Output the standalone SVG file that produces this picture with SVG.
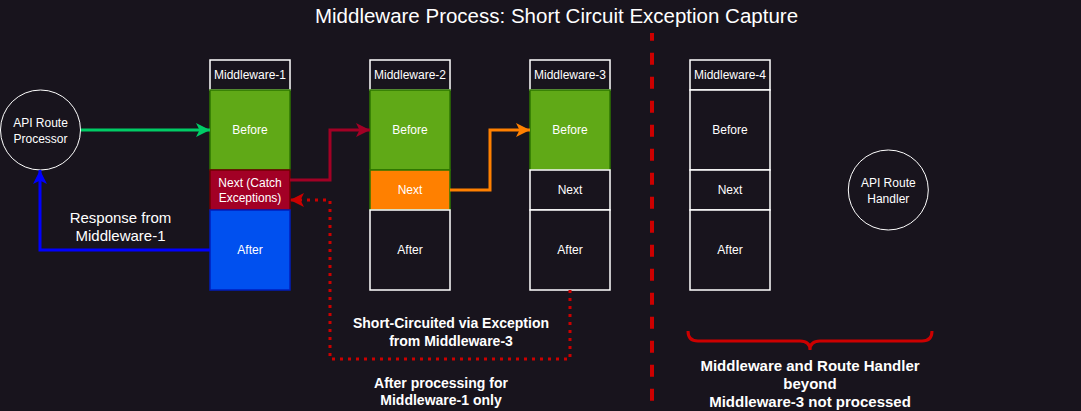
<svg xmlns="http://www.w3.org/2000/svg" width="1081" height="411" viewBox="0 0 1081 411">
<style>
text{font-family:"Liberation Sans",Arial,sans-serif;fill:#ffffff;text-anchor:middle}
.lbl{font-size:12px}
.hdr{font-size:12px}
.bold14{font-size:14px;font-weight:bold}
.bold15{font-size:15px;font-weight:bold}
.dark{fill:#18141d;stroke:#ffffff;stroke-width:1.5}
.green{fill:#60a917;stroke:#2d7600;stroke-width:1.5}
.red{fill:#a20025;stroke:#6f0000;stroke-width:1.5}
.blue{fill:#0050ef;stroke:#001dbc;stroke-width:1.5}
.orange{fill:#ff8000;stroke:#2d7600;stroke-width:1.5}
.circ{fill:#18141d;stroke:#ffffff;stroke-width:1}
.conn{fill:none;stroke-width:3}
</style>
<defs>
<marker id="aGreen" markerUnits="userSpaceOnUse" markerWidth="14" markerHeight="14" viewBox="0 0 14 14" refX="14" refY="7" orient="auto"><path d="M0,0 L14,7 L0,14 L3.5,7 Z" fill="#00cc66"/></marker>
<marker id="aBlue" markerUnits="userSpaceOnUse" markerWidth="14" markerHeight="14" viewBox="0 0 14 14" refX="14" refY="7" orient="auto"><path d="M0,0 L14,7 L0,14 L3.5,7 Z" fill="#0000ff"/></marker>
<marker id="aDRed" markerUnits="userSpaceOnUse" markerWidth="14" markerHeight="14" viewBox="0 0 14 14" refX="14" refY="7" orient="auto"><path d="M0,0 L14,7 L0,14 L3.5,7 Z" fill="#a20025"/></marker>
<marker id="aOrange" markerUnits="userSpaceOnUse" markerWidth="14" markerHeight="14" viewBox="0 0 14 14" refX="14" refY="7" orient="auto"><path d="M0,0 L14,7 L0,14 L3.5,7 Z" fill="#ff8000"/></marker>
<marker id="aRed" markerUnits="userSpaceOnUse" markerWidth="14" markerHeight="14" viewBox="0 0 14 14" refX="14" refY="7" orient="auto"><path d="M0,0 L14,7 L0,14 L3.5,7 Z" fill="#cc0000"/></marker>
</defs>
<rect x="0" y="0" width="1081" height="411" fill="#18141d"/>

<text x="556.5" y="22.5" style="font-size:20.5px">Middleware Process: Short Circuit Exception Capture</text>

<g id="divider">
<line x1="652" y1="33" x2="652" y2="411" stroke="#cc0000" stroke-width="4" stroke-dasharray="12 12" stroke-dashoffset="4.3"/>
</g>

<g id="api-route-processor">
<circle class="circ" cx="40.5" cy="130" r="40"/>
<text class="lbl" x="40.5" y="127">API Route</text>
<text class="lbl" x="40.5" y="142.5">Processor</text>
</g>

<g id="middleware-1">
<rect class="dark" x="210" y="60" width="80" height="30"/>
<text class="hdr" x="250" y="79.3">Middleware-1</text>
<rect class="green" x="210" y="90" width="80" height="80"/>
<text class="lbl" x="250" y="134.3">Before</text>
<rect class="red" x="210" y="170" width="80" height="40"/>
<text class="lbl" x="250" y="187">Next (Catch</text>
<text class="lbl" x="250" y="201.6">Exceptions)</text>
<rect class="blue" x="210" y="210" width="80" height="80"/>
<text class="lbl" x="250" y="254.3">After</text>
</g>

<g id="middleware-2">
<rect class="dark" x="370" y="60" width="80" height="30"/>
<text class="hdr" x="410" y="79.3">Middleware-2</text>
<rect class="green" x="370" y="90" width="80" height="80"/>
<text class="lbl" x="410" y="134.3">Before</text>
<rect class="orange" x="370" y="170" width="80" height="40"/>
<text class="lbl" x="410" y="194.3">Next</text>
<rect class="dark" x="370" y="210" width="80" height="80"/>
<text class="lbl" x="410" y="254.3">After</text>
</g>

<g id="middleware-3">
<rect class="dark" x="530" y="60" width="80" height="30"/>
<text class="hdr" x="570" y="79.3">Middleware-3</text>
<rect class="green" x="530" y="90" width="80" height="80"/>
<text class="lbl" x="570" y="134.3">Before</text>
<rect class="dark" x="530" y="170" width="80" height="40"/>
<text class="lbl" x="570" y="194.3">Next</text>
<rect class="dark" x="530" y="210" width="80" height="80"/>
<text class="lbl" x="570" y="254.3">After</text>
</g>

<g id="middleware-4">
<rect class="dark" x="690" y="60" width="80" height="30"/>
<text class="hdr" x="730" y="79.3">Middleware-4</text>
<rect class="dark" x="690" y="90" width="80" height="80"/>
<text class="lbl" x="730" y="134.3">Before</text>
<rect class="dark" x="690" y="170" width="80" height="40"/>
<text class="lbl" x="730" y="194.3">Next</text>
<rect class="dark" x="690" y="210" width="80" height="80"/>
<text class="lbl" x="730" y="254.3">After</text>
</g>

<g id="api-route-handler">
<circle class="circ" cx="888.3" cy="190" r="40"/>
<text class="lbl" x="888.3" y="187">API Route</text>
<text class="lbl" x="888.3" y="202.5">Handler</text>
</g>

<g id="connectors">
<path class="conn" d="M81,130 H210" stroke="#00cc66" marker-end="url(#aGreen)"/>
<path class="conn" d="M210,250 H40 V170" stroke="#0000ff" marker-end="url(#aBlue)"/>
<path class="conn" d="M290,180 H330 V130 H370" stroke="#a20025" marker-end="url(#aDRed)"/>
<path class="conn" d="M450,190 H490 V130 H530" stroke="#ff8000" marker-end="url(#aOrange)"/>
<path class="conn" d="M570,290 V359 H330 V200 H290" stroke="#cc0000" stroke-dasharray="3 5" marker-end="url(#aRed)"/>
</g>

<g id="brace">
<path d="M688,331 Q688,341 698,341 H800 Q810,341 810,350 Q810,341 820,341 H922 Q932,341 932,331" fill="none" stroke="#cc0000" stroke-width="3"/>
</g>

<g id="labels">
<text class="lbl" x="120.5" y="223.3" style="font-size:15px">Response from</text>
<text class="lbl" x="120.5" y="241.3" style="font-size:15px">Middleware-1</text>
<text class="bold14" x="451" y="328">Short-Circuited via Exception</text>
<text class="bold14" x="451" y="346">from Middleware-3</text>
<text class="bold14" x="441" y="388">After processing for</text>
<text class="bold14" x="441" y="405">Middleware-1 only</text>
<text class="bold15" x="810" y="371.3">Middleware and Route Handler</text>
<text class="bold15" x="810" y="389.3">beyond</text>
<text class="bold15" x="810" y="407">Middleware-3 not processed</text>
</g>
</svg>
